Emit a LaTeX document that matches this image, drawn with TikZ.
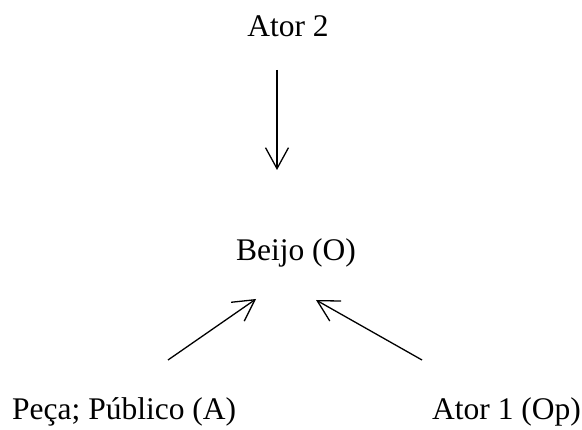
\documentclass[tikz,border=0pt]{standalone}
\usepackage{fontspec}
\setmainfont{Liberation Serif}
\usetikzlibrary{arrows.meta}
\begin{document}
\begin{tikzpicture}[x=1pt,y=-1pt,
  lbl/.style={inner sep=0pt, font=\fontsize{31.5}{36}\selectfont},
  arr/.style={line width=1.3pt, -{Straight Barb[length=21pt,width=23pt,line width=1.3pt]}}]
\useasboundingbox (0,0) rectangle (582,430);
\node[lbl, anchor=base] (ator2) at (288,37) {Ator 2};
\node[lbl, anchor=base] (beijo) at (296,261) {Beijo (O)};
\node[lbl, anchor=base west] (peca) at (12,420) {Peça; Público (A)};
\node[lbl, anchor=base west] (ator1) at (432,420) {Ator 1 (Op)};
\coordinate (a2s) at (277,70);
\coordinate (a2e) at (277,170);
\coordinate (ps) at (168,360);
\coordinate (pe) at (256,299);
\coordinate (a1s) at (422,360);
\coordinate (a1e) at (316,300);
\draw[arr] (a2s) -- (a2e);
\draw[arr] (ps) -- (pe);
\draw[arr] (a1s) -- (a1e);
\end{tikzpicture}
\end{document}
